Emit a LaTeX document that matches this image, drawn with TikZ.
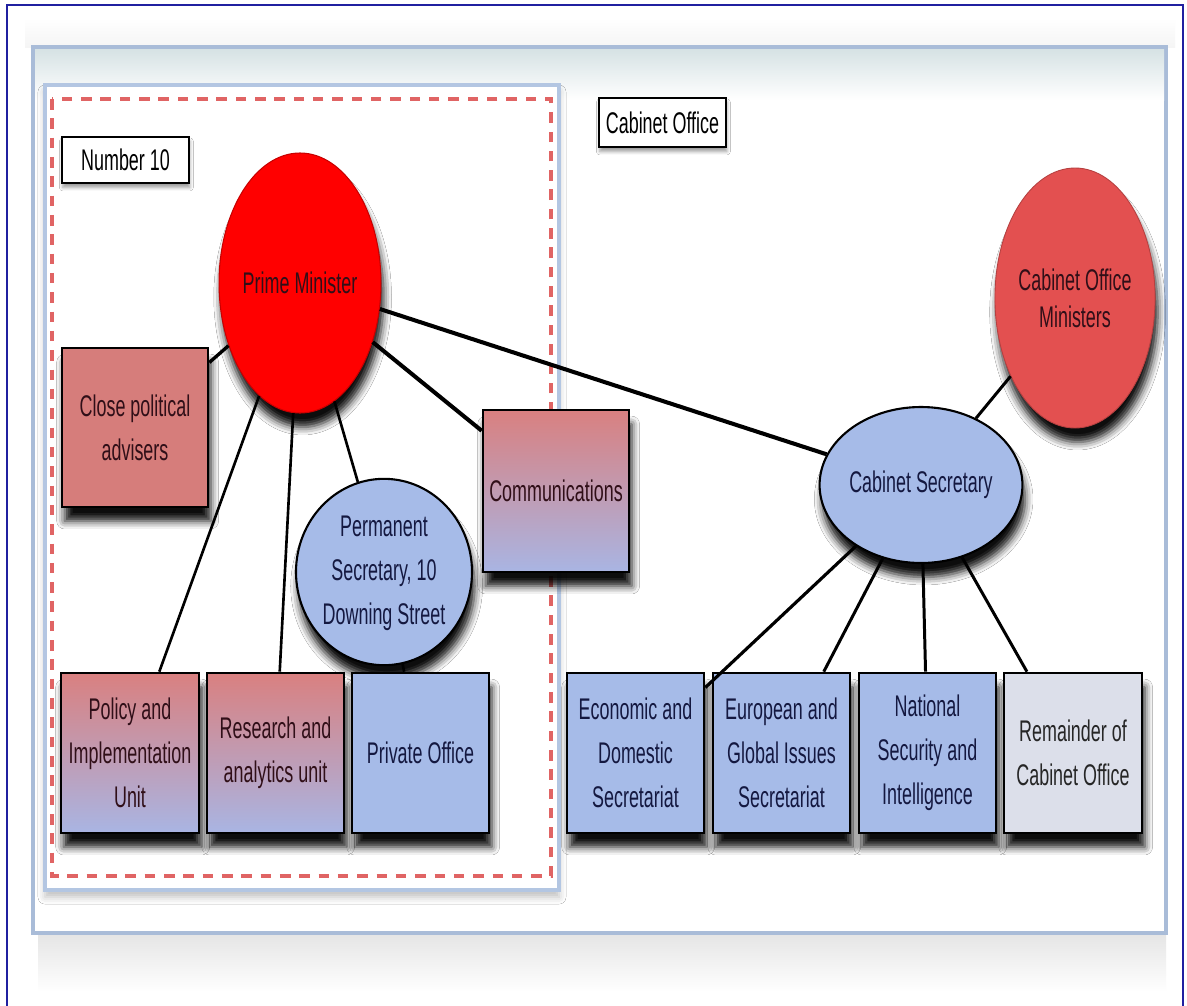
\documentclass[tikz,border=0pt]{standalone}
\usepackage{fontspec}
\setmainfont{Liberation Sans}[FakeStretch=0.6]
\usetikzlibrary{shapes.geometric,shadows.blur}

\definecolor{frameblue}{HTML}{2020A0}
\definecolor{panelline}{HTML}{A9BCD8}
\definecolor{innerline}{HTML}{B3C6E2}
\definecolor{dashred}{HTML}{E06464}
\definecolor{pmred}{HTML}{FF0000}
\definecolor{pmedge}{HTML}{C80000}
\definecolor{minred}{HTML}{E35050}
\definecolor{salmon}{HTML}{D67D7B}
\definecolor{salmontop}{HTML}{D98080}
\definecolor{lavender}{HTML}{A9B5E3}
\definecolor{unitblue}{HTML}{A6BBE8}
\definecolor{restgrey}{HTML}{DCDFEA}
\definecolor{navytext}{HTML}{141840}
\definecolor{maroontext}{HTML}{300F18}
\definecolor{bandtop}{HTML}{D6E2E4}

\newcommand{\pxu}{0.02cm}

\begin{document}
\begin{tikzpicture}[x=0.02cm, y=-0.02cm,
  every node/.style={font=\fontsize{17}{25}\selectfont, align=center, inner sep=0pt},
  softshadow/.style={blur shadow={shadow xshift=1.5pt, shadow yshift=-8pt, shadow blur radius=4.5pt, shadow opacity=95}},
  tagbox/.style={rectangle, draw=black, line width=1.2pt, fill=white,
    blur shadow={shadow xshift=0.5pt, shadow yshift=-2.5pt, shadow blur radius=2pt, shadow opacity=40}},
  unitbox/.style={rectangle, draw=black, line width=1.5pt, softshadow,
    minimum width=137*\pxu, minimum height=160*\pxu},
  mixfill/.style={top color=salmontop, bottom color=lavender, text=maroontext},
  bluefill/.style={fill=unitblue, text=navytext},
  oval/.style={ellipse, softshadow},
  tie/.style={line width=1.5pt, black},
  heavytie/.style={line width=2.3pt, black}
]
\useasboundingbox (0,0) rectangle (1187,1005);
\fill[white] (0,0) rectangle (1187,1005);

% outer frame
\draw[frameblue, line width=0.8pt] (7,5) rectangle (1183,1012);

% haze round the Cabinet Office panel
\shade[top color=white, bottom color=black!4] (25,18) rectangle (1175,47);
\shade[top color=black!10, bottom color=white] (38,935) rectangle (1166,992);

% Cabinet Office panel
\draw[panelline, line width=2.5pt, fill=white] (33,47) rectangle (1166,933);
\shade[top color=bandtop, bottom color=white] (35,49) rectangle (1164,100);

% Number 10 panel
\draw[innerline, line width=2.8pt, fill=white,
  blur shadow={shadow xshift=0pt, shadow yshift=-4pt, shadow blur radius=4pt, shadow opacity=25}]
  (45,85) rectangle (559,890);
\draw[dashred, line width=2.2pt, dash pattern=on 6pt off 5pt] (52,99) rectangle (551,876);

% panel titles
\node[tagbox, minimum width=127*\pxu, minimum height=46*\pxu] (num10) at (125.5,160) {Number 10};
\node[tagbox, minimum width=127*\pxu, minimum height=49*\pxu] (cotag) at (662.5,122.5) {Cabinet Office};

% ministers
\node[oval, fill=pmred, draw=pmedge, line width=0.6pt, text=maroontext,
  minimum width=130*\pxu, minimum height=260*\pxu] (pm) at (300,283) {Prime Minister};
\node[oval, fill=minred, draw=minred!80!black, line width=0.5pt, text=maroontext,
  font=\fontsize{17}{21}\selectfont,
  minimum width=126*\pxu, minimum height=260*\pxu] (com) at (1075,298) {Cabinet Office\\Ministers};

% officials
\node[oval, bluefill, draw=black, line width=1.2pt,
  minimum width=198*\pxu, minimum height=156*\pxu] (cas) at (921,485) {Cabinet Secretary};
\node[oval, bluefill, draw=black, line width=1.2pt,
  minimum width=176*\pxu, minimum height=180*\pxu] (perm) at (384,572)
  {\raisebox{5pt}{\begin{tabular}{@{}c@{}}Permanent\\Secretary, 10\\Downing Street\end{tabular}}};

% Number 10 units
\node[unitbox, fill=salmon, text=maroontext, minimum width=146*\pxu, minimum height=159*\pxu]
  (cpa) at (135,427.5) {Close political\\advisers};
\node[unitbox, mixfill, minimum width=146*\pxu, minimum height=162*\pxu]
  (comm) at (556,491) {Communications};
\node[unitbox, mixfill, minimum width=138*\pxu] (policy) at (130,753) {Policy and\\Implementation\\Unit};
\node[unitbox, mixfill] (research) at (275.5,753) {Research and\\analytics unit};
\node[unitbox, bluefill] (private) at (420.5,753) {Private Office};

% Cabinet Office units
\node[unitbox, bluefill] (eco) at (635.5,753) {Economic and\\Domestic\\Secretariat};
\node[unitbox, bluefill] (eur) at (781.5,753) {European and\\Global Issues\\Secretariat};
\node[unitbox, bluefill] (nat) at (927.5,753) {National\\Security and\\Intelligence};
\node[unitbox, fill=restgrey, text=black!85, minimum width=138*\pxu] (rem) at (1073,753) {Remainder of\\Cabinet Office};

% lines of responsibility
\draw[heavytie] (pm) -- (cas);
\draw[heavytie] (pm) -- (comm);
\draw[line width=1.9pt] (pm) -- (cpa);
\draw[tie] (pm) -- (policy);
\draw[tie] (pm) -- (research);
\draw[tie] (pm) -- (perm);
\draw[tie] (perm) -- (private);
\draw[line width=1.7pt] (cas) -- (com);
\draw[line width=1.8pt] (cas) -- (eco);
\draw[line width=1.7pt] (cas) -- (eur);
\draw[line width=1.7pt] (cas) -- (nat);
\draw[line width=1.7pt] (cas) -- (rem);
\end{tikzpicture}
\end{document}
